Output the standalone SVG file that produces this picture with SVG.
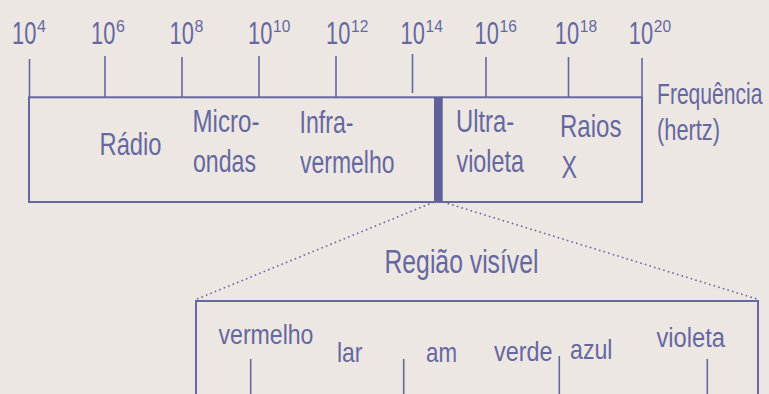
<svg xmlns="http://www.w3.org/2000/svg" width="769" height="394" viewBox="0 0 769 394">
<style>
.t{font-family:"Liberation Sans",Arial,sans-serif;fill:#6667A0}
.n{font-size:31px}
.s{font-size:16px}
.b{font-size:31px}
.l{font-size:28px}
.ln{stroke:#6667A0;fill:none}
.box{stroke-width:2}
.tk{stroke-width:1.6}
.dot{stroke-width:1.6;stroke-dasharray:1.6 3.2}
</style>
<rect width="769" height="394" fill="#ECE7E3"/>
<g id="axis-labels" class="t">
<text class="n" transform="translate(12,43.5) scale(0.705,1)">10</text><text class="s" x="37" y="32">4</text>
<text class="n" transform="translate(91,43.5) scale(0.705,1)">10</text><text class="s" x="116" y="32">6</text>
<text class="n" transform="translate(169.5,43.5) scale(0.705,1)">10</text><text class="s" x="194.5" y="32">8</text>
<text class="n" transform="translate(248,43.5) scale(0.705,1)">10</text><text class="s" transform="translate(273,32) scale(0.97,1)">10</text>
<text class="n" transform="translate(326,43.5) scale(0.705,1)">10</text><text class="s" transform="translate(351,32) scale(0.97,1)">12</text>
<text class="n" transform="translate(400.5,43.5) scale(0.705,1)">10</text><text class="s" transform="translate(425.5,32) scale(0.97,1)">14</text>
<text class="n" transform="translate(474.5,43.5) scale(0.705,1)">10</text><text class="s" transform="translate(499.5,32) scale(0.97,1)">16</text>
<text class="n" transform="translate(554.8,43.5) scale(0.705,1)">10</text><text class="s" transform="translate(579.8,32) scale(0.97,1)">18</text>
<text class="n" transform="translate(628.8,43.5) scale(0.705,1)">10</text><text class="s" transform="translate(653.8,32) scale(0.97,1)">20</text>
</g>
<g id="connectors" class="ln">
<g class="tk">
<line x1="29.5" y1="59" x2="29.5" y2="97"/>
<line x1="105" y1="56" x2="105" y2="97"/>
<line x1="182" y1="57" x2="182" y2="97"/>
<line x1="259" y1="56" x2="259" y2="97"/>
<line x1="336" y1="56" x2="336" y2="97"/>
<line x1="412.5" y1="54" x2="412.5" y2="93"/>
<line x1="486" y1="57" x2="486" y2="97"/>
<line x1="568.5" y1="57" x2="568.5" y2="97"/>
<line x1="642" y1="58" x2="642" y2="97"/>
<line x1="250.7" y1="359" x2="250.7" y2="394"/>
<line x1="403.7" y1="359" x2="403.7" y2="394"/>
<line x1="559.3" y1="356" x2="559.3" y2="394"/>
<line x1="707.3" y1="359" x2="707.3" y2="394"/>
</g>
<line class="dot" x1="197" y1="299" x2="434" y2="202"/>
<line class="dot" x1="443" y1="202" x2="757" y2="299"/>
</g>
<g id="spectrum">
<rect class="ln box" x="29" y="97.3" width="613" height="104.7"/>
<rect x="434" y="97" width="8.7" height="104" fill="#5F6099"/>
</g>
<g id="radio" class="t b"><text transform="translate(99.5,155) scale(0.766,1)">Rádio</text></g>
<g id="microondas" class="t b"><text transform="translate(192.5,132) scale(0.778,1)">Micro-</text><text transform="translate(193,172) scale(0.746,1)">ondas</text></g>
<g id="infravermelho" class="t b"><text transform="translate(299.5,133.3) scale(0.746,1)">Infra-</text><text transform="translate(300,173.3) scale(0.741,1)">vermelho</text></g>
<g id="ultravioleta" class="t b"><text transform="translate(456,132) scale(0.766,1)">Ultra-</text><text transform="translate(456.5,172) scale(0.753,1)">violeta</text></g>
<g id="raiosx" class="t b"><text transform="translate(560,137) scale(0.776,1)">Raios</text><text transform="translate(561.5,178.3) scale(0.75,1)">X</text></g>
<g id="frequencia" class="t" font-size="30"><text transform="translate(657,104.3) scale(0.703,1)">Frequência</text><text transform="translate(657,140) scale(0.727,1)">(hertz)</text></g>
<g id="regiao-visivel" class="t" font-size="34"><text transform="translate(384.5,272.7) scale(0.728,1)">Região visível</text></g>
<g id="visible">
<polyline class="ln box" points="196,394 196,301 758,301 758,394"/>
</g>
<g id="vermelho" class="t l"><text transform="translate(218.5,344) scale(0.825,1)">vermelho</text></g>
<g id="lar" class="t l"><text transform="translate(337,361.7) scale(0.82,1)">lar</text></g>
<g id="am" class="t l"><text transform="translate(426,362.3) scale(0.797,1)">am</text></g>
<g id="verde" class="t l"><text transform="translate(494,361) scale(0.836,1)">verde</text></g>
<g id="azul" class="t l"><text transform="translate(570,359.3) scale(0.828,1)">azul</text></g>
<g id="violeta" class="t l"><text transform="translate(656.5,347.3) scale(0.847,1)">violeta</text></g>
</svg>
